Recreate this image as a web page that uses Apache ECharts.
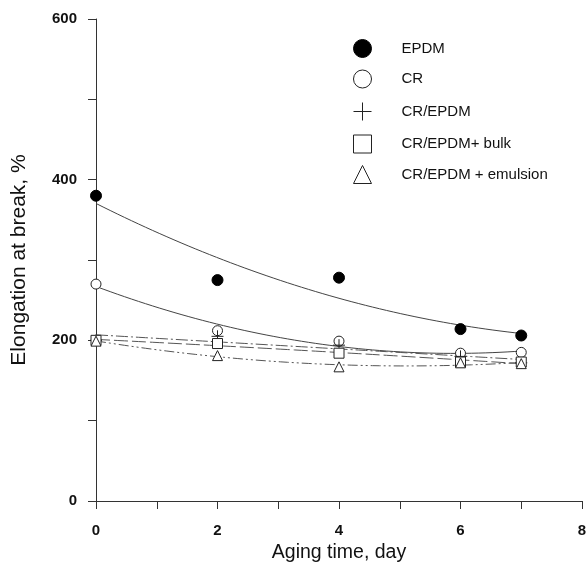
<!DOCTYPE html>
<html>
<head>
<meta charset="utf-8">
<script src="https://cdn.jsdelivr.net/npm/echarts@6/dist/echarts.min.js"></script>
<style>
  html, body { margin: 0; padding: 0; background: #fff; }
  #chart { width: 588px; height: 563px; }
</style>
</head>
<body>
<div id="chart"></div>
<script>
// Aging time (days) and elongation at break (%) for each compound
const days = [0, 2, 4, 6, 7];
const epdm = [380, 275, 278, 214, 206];
const cr = [270, 212, 199, 184, 185];
const crEpdm = [200, 205, 194, 180, 172];
const crEpdmBulk = [200, 196, 184, 173, 173];
const crEpdmEmulsion = [199, 181, 167, 172, 171];

const seriesNames = ['EPDM', 'CR', 'CR/EPDM', 'CR/EPDM+ bulk', 'CR/EPDM + emulsion'];
const fitOrder = [2, 2, 1, 2, 2];
const yTicks = [0, 200, 400, 600];

// Least-squares polynomial trend (order 1 or 2) through the measured points
function polyFit(xs, ys, order) {
  const m = order + 1;
  const s = new Array(2 * m - 1).fill(0), t = new Array(m).fill(0);
  for (let i = 0; i < xs.length; i++) {
    let p = 1;
    for (let k = 0; k < 2 * m - 1; k++) { s[k] += p; if (k < m) t[k] += p * ys[i]; p *= xs[i]; }
  }
  const A = [];
  for (let r = 0; r < m; r++) {
    const row = [];
    for (let c = 0; c < m; c++) row.push(s[r + c]);
    row.push(t[r]);
    A.push(row);
  }
  for (let i = 0; i < m; i++) {
    for (let j = i + 1; j < m; j++) {
      const f = A[j][i] / A[i][i];
      for (let k = i; k <= m; k++) A[j][k] -= f * A[i][k];
    }
  }
  const c = new Array(m).fill(0);
  for (let i = m - 1; i >= 0; i--) {
    let v = A[i][m];
    for (let k = i + 1; k < m; k++) v -= A[i][k] * c[k];
    c[i] = v / A[i][i];
  }
  const out = [];
  const x0 = xs[0], x1 = xs[xs.length - 1];
  for (let n = 0; n <= 60; n++) {
    const x = x0 + (x1 - x0) * n / 60;
    let y = 0, p = 1;
    for (let k = 0; k < m; k++) { y += c[k] * p; p *= x; }
    out.push([x, y]);
  }
  return out;
}

const pts = ys => days.map((d, i) => [d, ys[i]]);
const plusPath = 'path://M0,5L10,5M5,0L5,10';
const font = 'Liberation Sans, Arial, sans-serif';

const markers = [
  { name: seriesNames[0], data: epdm, symbol: 'circle', size: 11, item: { color: '#000', borderColor: '#000', borderWidth: 1, opacity: 1 } },
  { name: seriesNames[1], data: cr, symbol: 'circle', size: 10, item: { color: '#fff', borderColor: '#222', borderWidth: 1, opacity: 1 } },
  { name: seriesNames[2], data: crEpdm, symbol: plusPath, size: 12, item: { color: 'none', borderColor: '#222', borderWidth: 1, opacity: 1 } },
  { name: seriesNames[3], data: crEpdmBulk, symbol: 'rect', size: 10, item: { color: '#fff', borderColor: '#222', borderWidth: 1, opacity: 1 } },
  { name: seriesNames[4], data: crEpdmEmulsion, symbol: 'triangle', size: 10, item: { color: '#fff', borderColor: '#222', borderWidth: 1, opacity: 1 } }
];

const lineStyles = [
  { type: 'solid', color: '#444', width: 1 },
  { type: 'solid', color: '#444', width: 1 },
  { type: [12, 3, 2, 3], color: '#555', width: 1 },
  { type: [14, 4], color: '#555', width: 1 },
  { type: [10, 3, 2, 3, 2, 3], color: '#555', width: 1 }
];

const series = [];
markers.forEach((m, i) => {
  series.push({
    name: m.name + ' fit',
    type: 'line',
    data: polyFit(days, m.data, fitOrder[i]),
    showSymbol: false,
    symbol: 'none',
    lineStyle: lineStyles[i],
    silent: true,
    z: 2
  });
});
markers.forEach(m => {
  series.push({
    name: m.name,
    type: 'scatter',
    data: pts(m.data),
    symbol: m.symbol,
    symbolSize: m.size,
    itemStyle: m.item,
    z: 3
  });
});

const chart = echarts.init(document.getElementById('chart'), null, { renderer: 'canvas' });
chart.setOption({
  animation: false,
  backgroundColor: '#fff',
  grid: { left: 96, right: 6, top: 19, bottom: 62, containLabel: false, outerBoundsMode: 'none' },
  legend: {
    data: markers.map(m => ({
      name: m.name,
      icon: m.symbol,
      itemStyle: Object.assign({}, m.item, { borderWidth: 1 })
    })),
    orient: 'vertical',
    left: 346,
    top: 34,
    itemWidth: 18,
    itemHeight: 18,
    itemGap: 11.5,
    selectedMode: false,
    textStyle: {
      fontFamily: font,
      fontSize: 15,
      color: '#111',
      padding: [0, 0, 0, 25]
    }
  },
  xAxis: {
    type: 'value',
    min: 0,
    max: 8,
    interval: 1,
    name: 'Aging time, day',
    nameLocation: 'middle',
    nameGap: 41,
    nameTextStyle: { fontFamily: font, fontSize: 19.5, color: '#111' },
    axisLine: { show: true, onZero: false, lineStyle: { color: '#333', width: 1 } },
    axisTick: { show: true, inside: false, length: 8, lineStyle: { color: '#333' } },
    axisLabel: {
      margin: 22,
      fontFamily: font,
      fontWeight: 'bold',
      fontSize: 15,
      color: '#111',
      formatter: v => (v % 2 === 0 ? String(v) : '')
    },
    splitLine: { show: false }
  },
  yAxis: {
    type: 'value',
    min: 0,
    max: 600,
    interval: 100,
    name: 'Elongation at break, %',
    nameLocation: 'middle',
    nameGap: 66,
    nameRotate: 90,
    nameTextStyle: { fontFamily: font, fontSize: 21, color: '#111' },
    axisLine: { show: true, onZero: false, lineStyle: { color: '#333', width: 1 } },
    axisTick: { show: true, inside: false, length: 8, lineStyle: { color: '#333' } },
    axisLabel: {
      margin: 19,
      fontFamily: font,
      fontWeight: 'bold',
      fontSize: 15,
      color: '#111',
      formatter: v => (yTicks.indexOf(v) >= 0 ? String(v) : '')
    },
    splitLine: { show: false }
  },
  series: series
});
</script>
</body>
</html>
